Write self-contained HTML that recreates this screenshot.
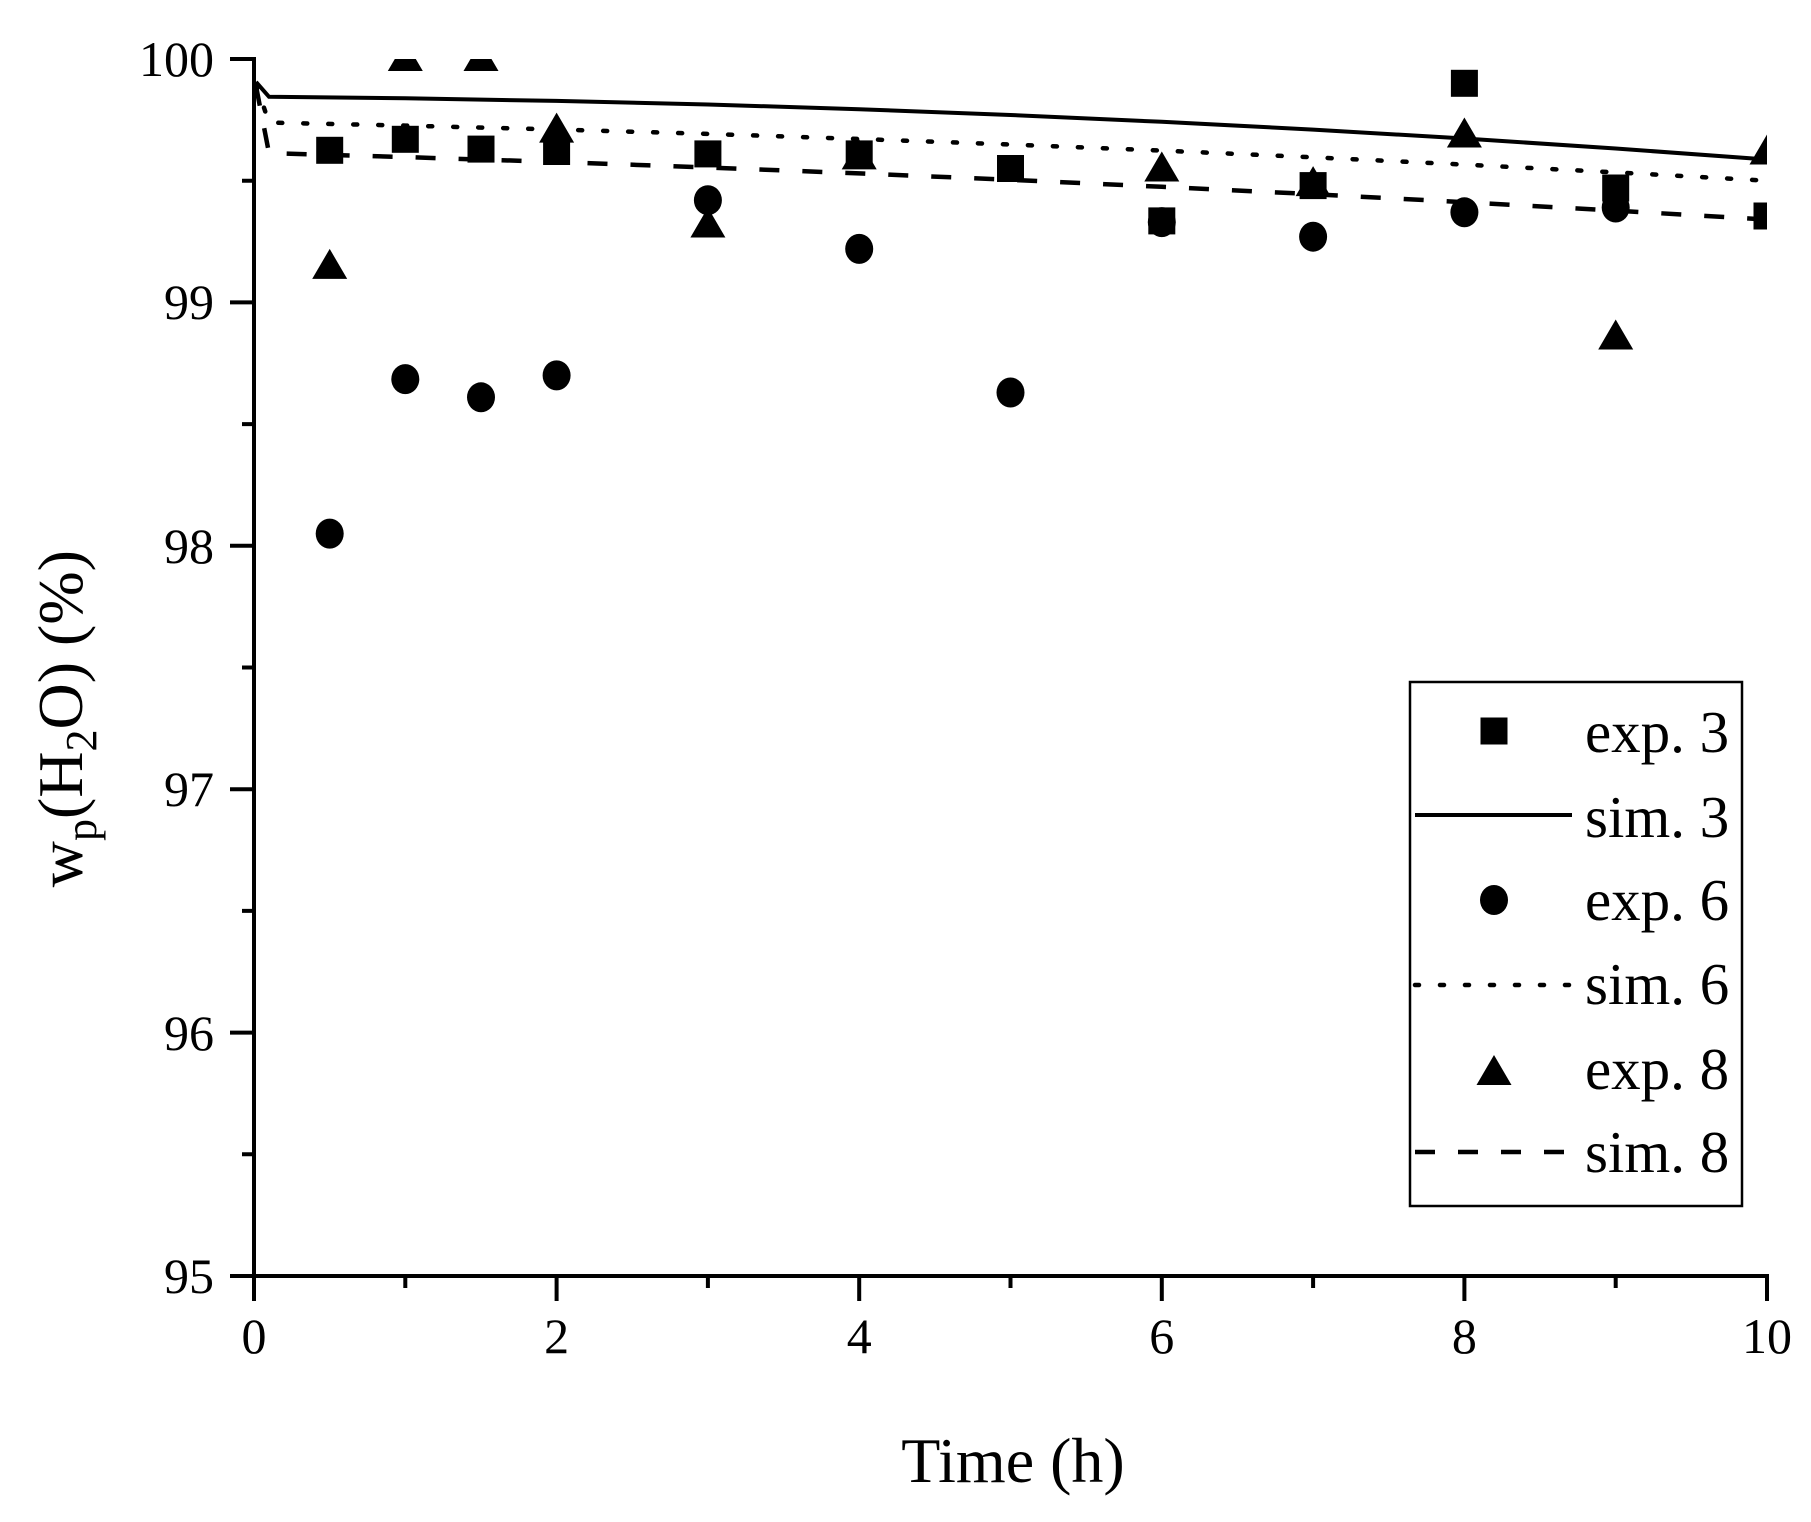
<!DOCTYPE html>
<html><head><meta charset="utf-8"><style>
html,body{margin:0;padding:0;background:#fff;}
svg{display:block;}
text{font-family:"Liberation Serif",serif;fill:#000;}
</style></head><body>
<svg width="1811" height="1522" viewBox="0 0 1811 1522" xmlns="http://www.w3.org/2000/svg">
<defs><clipPath id="pa"><rect x="254" y="59" width="1513" height="1220"/></clipPath></defs>
<rect width="1811" height="1522" fill="#fff"/>
<g clip-path="url(#pa)">
<polyline fill="none" stroke="#000" stroke-width="4" points="256,82 269,96.8 405.3,98.3 556.6,100.9 707.9,104.5 859.2,109.2 1010.5,115 1161.8,121.8 1313.1,129.6 1464.4,138.5 1615.7,148.5 1767,159.5"/>
<polyline fill="none" stroke="#000" stroke-width="4.5" stroke-dasharray="4,21" stroke-linecap="round" points="256,84 269,122.6 405.3,125.6 556.6,129.5 707.9,133.9 859.2,139 1010.5,144.5 1161.8,150.6 1313.1,157.3 1464.4,164.6 1615.7,172.4 1767,180.7"/>
<polyline fill="none" stroke="#000" stroke-width="4.5" stroke-dasharray="20,23" points="256,86 269,153.1 405.3,157.1 556.6,162 707.9,167.5 859.2,173.4 1010.5,179.8 1161.8,186.8 1313.1,194.2 1464.4,202.2 1615.7,210.6 1767,219.6"/>
<g fill="#000">
<rect x="316.2" y="136.8" width="27" height="27"/><rect x="391.8" y="125.8" width="27" height="27"/><rect x="467.5" y="135.6" width="27" height="27"/><rect x="543.1" y="138" width="27" height="27"/><rect x="694.4" y="140.4" width="27" height="27"/><rect x="845.7" y="140.4" width="27" height="27"/><rect x="997" y="155" width="27" height="27"/><rect x="1148.3" y="207.4" width="27" height="27"/><rect x="1299.6" y="172.1" width="27" height="27"/><rect x="1450.9" y="69.8" width="27" height="27"/><rect x="1602.2" y="174.5" width="27" height="27"/><rect x="1753.5" y="202.5" width="27" height="27"/>
<ellipse cx="329.7" cy="533.6" rx="14" ry="15"/><ellipse cx="405.3" cy="379.1" rx="14" ry="15"/><ellipse cx="481" cy="397.3" rx="14" ry="15"/><ellipse cx="556.6" cy="375.4" rx="14" ry="15"/><ellipse cx="707.9" cy="200.2" rx="14" ry="15"/><ellipse cx="859.2" cy="248.9" rx="14" ry="15"/><ellipse cx="1010.5" cy="392.5" rx="14" ry="15"/><ellipse cx="1161.8" cy="222.1" rx="14" ry="15"/><ellipse cx="1313.1" cy="236.7" rx="14" ry="15"/><ellipse cx="1464.4" cy="212.3" rx="14" ry="15"/><ellipse cx="1615.7" cy="207.5" rx="14" ry="15"/>
<polygon points="329.7,248.9 312.2,278.9 347.2,278.9"/>
<polygon points="405.3,41 387.8,71 422.8,71"/>
<polygon points="481,41 463.5,71 498.5,71"/>
<polygon points="556.6,112.6 539.1,142.6 574.1,142.6"/>
<polygon points="707.9,207.5 690.4,237.5 725.4,237.5"/>
<polygon points="859.2,139.4 841.7,169.4 876.7,169.4"/>
<polygon points="1161.8,151.5 1144.3,181.5 1179.3,181.5"/>
<polygon points="1313.1,166.1 1295.6,196.1 1330.6,196.1"/>
<polygon points="1464.4,117.5 1446.9,147.5 1481.9,147.5"/>
<polygon points="1615.7,319.5 1598.2,349.5 1633.2,349.5"/>
<polygon points="1767,134.5 1749.5,164.5 1784.5,164.5"/>
</g>
</g>
<g stroke="#000" stroke-width="4" fill="none">
<polyline points="230,59 254,59 254,1276 1767,1276 1767,1301"/>
<path d="M230,302.4H254M230,545.8H254M230,789.2H254M230,1032.6H254M230,1276H254M242,180.7H254M242,424.1H254M242,667.5H254M242,910.9H254M242,1154.3H254"/>
<path d="M254,1276V1301M556.6,1276V1301M859.2,1276V1301M1161.8,1276V1301M1464.4,1276V1301M405.3,1276V1288M707.9,1276V1288M1010.5,1276V1288M1313.1,1276V1288M1615.7,1276V1288"/>
</g>
<g font-size="50" text-anchor="end">
<text x="214" y="76">100</text><text x="214" y="319">99</text><text x="214" y="563">98</text><text x="214" y="806">97</text><text x="214" y="1050">96</text><text x="214" y="1293">95</text>
</g>
<g font-size="50" text-anchor="middle">
<text x="254" y="1353">0</text><text x="556.6" y="1353">2</text><text x="859.2" y="1353">4</text><text x="1161.8" y="1353">6</text><text x="1464.4" y="1353">8</text><text x="1767" y="1353">10</text>
</g>
<text x="1013" y="1482" font-size="64" text-anchor="middle">Time (h)</text>
<text transform="translate(82,550) rotate(-90)" font-size="64" text-anchor="end">w<tspan font-size="44" dy="14">p</tspan><tspan dy="-14">(H</tspan><tspan font-size="44" dy="14">2</tspan><tspan dy="-14">O) (%)</tspan></text>
<rect x="1410" y="682" width="332" height="524" fill="none" stroke="#000" stroke-width="2.5"/>
<rect x="1480.5" y="717.5" width="27" height="27" fill="#000"/>
<line x1="1415" y1="815" x2="1572" y2="815" stroke="#000" stroke-width="4"/>
<ellipse cx="1494" cy="900" rx="14" ry="15" fill="#000"/>
<line x1="1415" y1="985" x2="1572" y2="985" stroke="#000" stroke-width="4.5" stroke-dasharray="4,21" stroke-linecap="round"/>
<polygon points="1494,1055 1476.5,1085 1511.5,1085" fill="#000"/>
<line x1="1415" y1="1152" x2="1572" y2="1152" stroke="#000" stroke-width="4.5" stroke-dasharray="20,23"/>
<g font-size="59">
<text x="1585" y="752">exp. 3</text><text x="1585" y="837">sim. 3</text><text x="1585" y="920">exp. 6</text><text x="1585" y="1004">sim. 6</text><text x="1585" y="1089">exp. 8</text><text x="1585" y="1172">sim. 8</text>
</g>
</svg>
</body></html>
